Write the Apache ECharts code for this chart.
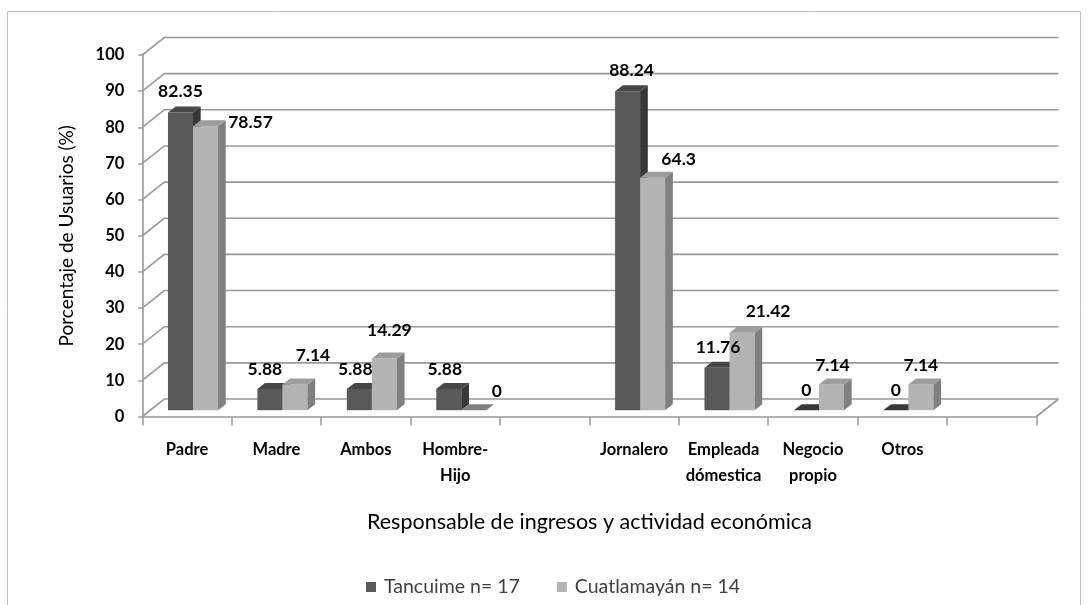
<!DOCTYPE html>
<html>
<head>
<meta charset="utf-8">
<title>Responsable de ingresos y actividad económica</title>
<script src="https://cdn.jsdelivr.net/npm/echarts@6/dist/echarts.min.js"></script>
<style>
  html, body { margin: 0; padding: 0; background: #ffffff; }
  #chart { width: 1090px; height: 605px; }
</style>
</head>
<body>
<div id="chart"></div>
<script>
// Categories (empty slots separate the two groups and close the floor)
const categories = ['Padre', 'Madre', 'Ambos', 'Hombre-\nHijo', '', 'Jornalero', 'Empleada\ndómestica', 'Negocio\npropio', 'Otros', ''];

// Percentages per community
const tancuime = [82.35, 5.88, 5.88, 5.88, null, 88.24, 11.76, 0, 0, null];
const cuatlamayan = [78.57, 7.14, 14.29, 0, null, 64.3, 21.42, 7.14, 7.14, null];

const seriesNames = ['Tancuime n= 17', 'Cuatlamayán n= 14'];

// Value axis ticks
const yMin = 0;
const yMax = 100;
const yStep = 10;

// ---- pseudo-3D geometry (pixels) ----
const WALL_DX = 22, WALL_DY = -17.5;   // depth of the floor / side wall
const FACE_DX = 7.9, FACE_DY = -6.3;   // bars stand a little behind the front edge
const BAR_DX = 7.7, BAR_DY = -6;       // depth of each column
const BAR_FRAC = 0.28;                 // column width as a share of the category band
const PAIR_OFFSET = -1.9;

const FONT = 'Lato, "Open Sans", "DejaVu Sans", sans-serif';
const GRID_COLOR = '#9a9a9a';

const palette = [
  { front: '#595959', top: '#474747', side: '#383838' },
  { front: '#b3b3b3', top: '#9d9d9d', side: '#808080' }
];

// Where each value label sits relative to the top of its column
const labelNudge = [
  [[0, -21], [-5, -20], [-4, -20], [-4, -20], null, [4, -21], [1, -20], [0, -20], [0, -20], null],
  [[45, -4], [18, -29], [5, -28], [23, -19], null, [26, -18], [26, -21], [1, -19], [0, -19], null]
];

const wallData = [];
for (let v = yMin; v <= yMax; v += yStep) wallData.push([0, v]);

function renderWall(params, api) {
  const v = api.value(1);
  const band = api.size([1, 0])[0];
  const a = api.coord([0, v]);
  const b = api.coord([categories.length - 1, v]);
  const left = a[0] - band / 2;
  const right = b[0] + band / 2;
  const y = a[1];
  const children = [{
    type: 'polyline',
    shape: { points: [[left, y], [left + WALL_DX, y + WALL_DY], [right + WALL_DX, y + WALL_DY]] },
    style: { stroke: GRID_COLOR, lineWidth: 1.6, fill: null }
  }];
  if (v === yMin) {
    children.push({
      type: 'line',
      shape: { x1: right, y1: y, x2: right + WALL_DX, y2: y + WALL_DY },
      style: { stroke: GRID_COLOR, lineWidth: 1.6 }
    });
  }
  return { type: 'group', children: children };
}

function barRenderer(s) {
  const c = palette[s];
  return function (params, api) {
    const i = api.value(0);
    const v = api.value(1);
    const topPt = api.coord([i, v]);
    const basePt = api.coord([i, 0]);
    const band = api.size([1, 0])[0];
    const w = band * BAR_FRAC;
    const mid = topPt[0] + FACE_DX + PAIR_OFFSET;
    const left = s === 0 ? mid - w : mid;
    const right = left + w;
    const yT = topPt[1] + FACE_DY;
    const yB = basePt[1] + FACE_DY;
    const children = [];
    if (yB - yT > 0.5) {
      children.push({
        type: 'rect',
        shape: { x: left, y: yT, width: w, height: yB - yT },
        style: { fill: c.front }
      });
      children.push({
        type: 'polygon',
        shape: { points: [[right, yB], [right, yT], [right + BAR_DX, yT + BAR_DY], [right + BAR_DX, yB + BAR_DY]] },
        style: { fill: c.side }
      });
    }
    children.push({
      type: 'polygon',
      shape: { points: [[left, yT], [right, yT], [right + BAR_DX, yT + BAR_DY], [left + BAR_DX, yT + BAR_DY]] },
      style: { fill: yB - yT > 0.5 ? c.top : c.side }
    });
    const nudge = labelNudge[s][i] || [0, -20];
    children.push({
      type: 'text',
      z2: 100,
      x: left + w / 2 + nudge[0],
      y: yT + nudge[1],
      style: {
        text: String(v),
        fill: '#000000',
        font: 'bold 17.5px ' + FONT,
        align: 'center',
        verticalAlign: 'middle'
      }
    });
    return { type: 'group', children: children };
  };
}

function toItems(values) {
  const out = [];
  values.forEach(function (v, i) { if (v !== null) out.push([i, v]); });
  return out;
}

const chart = echarts.init(document.getElementById('chart'), null, { renderer: 'canvas' });

chart.setOption({
  animation: false,
  backgroundColor: '#ffffff',
  graphic: [{
    type: 'rect',
    shape: { x: 7.5, y: 11.5, width: 1073, height: 620 },
    style: { fill: null, stroke: '#c0c0c0', lineWidth: 1 },
    silent: true
  }],
  grid: { left: 142.3, right: 53.5, top: 55, bottom: 188.5, containLabel: false },
  legend: {
    data: seriesNames,
    left: 361,
    top: 572,
    icon: 'rect',
    itemWidth: 10,
    itemHeight: 10,
    itemGap: 37,
    textStyle: { fontFamily: FONT, fontSize: 19.5, color: '#404040', padding: [0, 0, 0, 3] }
  },
  xAxis: {
    type: 'category',
    data: categories,
    boundaryGap: true,
    name: 'Responsable de ingresos y actividad económica',
    nameLocation: 'middle',
    nameGap: 95,
    nameTextStyle: { fontFamily: FONT, fontSize: 21.5, color: '#000000' },
    axisLine: { lineStyle: { color: GRID_COLOR, width: 1.6 } },
    axisTick: { show: true, alignWithLabel: false, interval: 0, length: 9, lineStyle: { color: GRID_COLOR, width: 1.5 } },
    axisLabel: {
      interval: 0,
      margin: 20,
      fontFamily: FONT,
      fontSize: 16.5,
      fontWeight: 'bold',
      color: '#000000',
      lineHeight: 26
    },
    splitLine: { show: false }
  },
  yAxis: {
    type: 'value',
    min: yMin,
    max: yMax,
    interval: yStep,
    name: 'Porcentaje de Usuarios (%)',
    nameLocation: 'middle',
    nameGap: 66,
    nameTextStyle: { fontFamily: FONT, fontSize: 19, color: '#000000' },
    axisLine: { show: true, lineStyle: { color: GRID_COLOR, width: 1.6 } },
    axisTick: { show: true, length: 4, lineStyle: { color: GRID_COLOR, width: 1.5 } },
    axisLabel: { margin: 18, fontFamily: FONT, fontSize: 16.5, fontWeight: 'bold', color: '#000000' },
    splitLine: { show: false }
  },
  series: [
    {
      type: 'custom',
      name: 'wall',
      silent: true,
      clip: false,
      z: 1,
      renderItem: renderWall,
      encode: { x: 0, y: 1 },
      data: wallData
    },
    {
      type: 'custom',
      name: seriesNames[0],
      clip: false,
      z: 3,
      itemStyle: { color: palette[0].front },
      renderItem: barRenderer(0),
      encode: { x: 0, y: 1 },
      data: toItems(tancuime)
    },
    {
      type: 'custom',
      name: seriesNames[1],
      clip: false,
      z: 3,
      itemStyle: { color: palette[1].front },
      renderItem: barRenderer(1),
      encode: { x: 0, y: 1 },
      data: toItems(cuatlamayan)
    }
  ]
});
</script>
</body>
</html>
